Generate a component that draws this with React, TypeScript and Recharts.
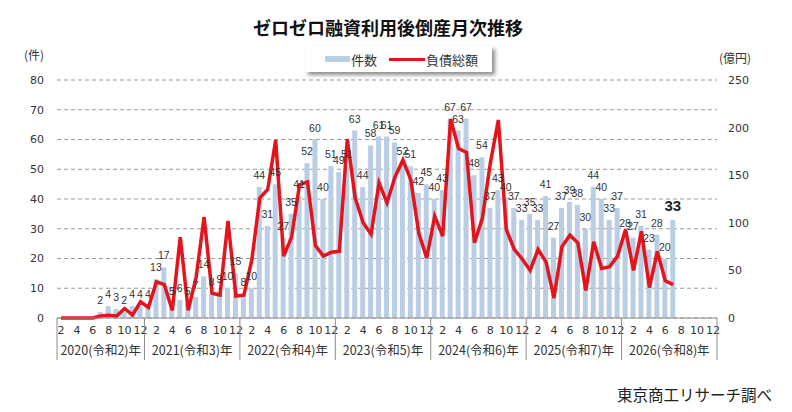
import { Bar, CartesianGrid, ComposedChart, LabelList, Legend, Line, XAxis, YAxis } from 'recharts'

const years = [2020, 2021, 2022, 2023, 2024, 2025, 2026]
const eraYears = [2, 3, 4, 5, 6, 7, 8]

// 件数 (Feb 2020 - Jul 2026)
const counts = [
  0, 0, 0, 0, 0, 2, 4, 3, 2, 4, 4,
  4, 13, 17, 5, 6, 5, 7, 14, 8, 9, 10, 15,
  8, 10, 44, 31, 45, 27, 35, 41, 52, 60, 40, 51,
  49, 51, 63, 44, 58, 61, 61, 59, 52, 51, 42, 45,
  40, 43, 67, 63, 67, 48, 54, 37, 43, 40, 37, 33,
  35, 33, 41, 27, 37, 39, 38, 30, 44, 40, 33, 37,
  28, 27, 31, 23, 28, 20, 33,
]

// 負債総額 (億円)
const debts = [
  0, 0, 0, 0, 0, 2, 3, 2, 10, 3, 17,
  11, 38, 35, 8, 85, 8, 43, 106, 26, 24, 102, 23,
  24, 61, 126, 135, 187, 65, 85, 140, 143, 76, 65, 69,
  70, 188, 126, 100, 88, 142, 121, 148, 166, 145, 89, 63,
  107, 86, 209, 178, 174, 79, 105, 163, 208, 93, 72, 62,
  50, 72, 59, 21, 75, 87, 79, 29, 80, 52, 54, 65,
  93, 50, 91, 32, 70, 39, 35,
]

const leftTicks = [0, 10, 20, 30, 40, 50, 60, 70, 80]
const rightTicks = [0, 50, 100, 150, 200, 250]

const categories = years.flatMap((year, i) => {
  const start = i === 0 ? 2 : 1
  return Array.from({ length: 13 - start }, (_, k) => ({ year, era: eraYears[i], month: start + k }))
})

const lastIdx = counts.length - 1

const data = categories.map((c, i) => ({
  key: `${c.year}-${c.month}`,
  ...c,
  count: i < counts.length ? counts[i] : null,
  debt: i < debts.length ? debts[i] : null,
  // the latest month gets its own, larger label
  labelSmall: i < lastIdx ? counts[i] : null,
  labelBig: i === lastIdx ? counts[i] : null,
}))

const jp = '"Noto Sans CJK JP", sans-serif'
const num = '"DejaVu Sans", sans-serif'
const barColor = '#b9cde5'
const lineColor = '#e3141c'
const textColor = '#333'

function MonthTick(props: any) {
  const { x, y, payload } = props
  const i = payload.index
  const d = data[i]
  if (!d) return null
  const half = payload.offset || 3.97
  const sep = '#8c8c8c'
  return (
    <g>
      {d.month % 2 === 0 && (
        <text x={x} y={y + 16} textAnchor="middle" fontSize={11} fontFamily={num} fill={textColor}>
          {d.month}
        </text>
      )}
      {(i === 0 || d.month === 1) && <line x1={x - half} x2={x - half} y1={y} y2={y + 42} stroke={sep} />}
      {i === data.length - 1 && <line x1={x + half} x2={x + half} y1={y} y2={y + 42} stroke={sep} />}
      {d.year === 2020 && d.month === 7 && (
        <text x={x} y={y + 37} textAnchor="middle" fontSize={12.5} fontFamily={jp} fill={textColor}>
          {`${d.year}(令和${d.era})年`}
        </text>
      )}
      {d.year !== 2020 && d.month === 6 && (
        <text x={x + half} y={y + 37} textAnchor="middle" fontSize={12.5} fontFamily={jp} fill={textColor}>
          {`${d.year}(令和${d.era})年`}
        </text>
      )}
    </g>
  )
}

function SmallLabel(props: any) {
  const { x, y, width, value } = props
  if (value == null) return null
  return (
    <text
      x={x + width / 2}
      y={y - 8}
      textAnchor="middle"
      fontSize={10.5}
      fontFamily='"Liberation Sans", sans-serif'
      fill={textColor}
    >
      {value}
    </text>
  )
}

function BigLabel(props: any) {
  const { x, y, width, value } = props
  if (value == null) return null
  return (
    <text
      x={x + width / 2}
      y={y - 9}
      textAnchor="middle"
      fontSize={15}
      fontWeight={700}
      fontFamily='"Liberation Sans", sans-serif'
      fill="#222"
    >
      {value}
    </text>
  )
}

function LegendBox() {
  return (
    <div
      style={{
        width: 187,
        height: 26,
        background: '#fff',
        boxShadow: '3px 3px 4px rgba(0,0,0,0.45)',
        display: 'flex',
        alignItems: 'center',
        fontFamily: jp,
        fontSize: 13,
        color: textColor,
      }}
    >
      <span style={{ display: 'inline-block', width: 25, height: 6, background: barColor, marginLeft: 20 }} />
      <span style={{ marginLeft: 1 }}>件数</span>
      <span style={{ display: 'inline-block', width: 36, height: 3, background: lineColor, marginLeft: 12 }} />
      <span style={{ marginLeft: 1 }}>負債総額</span>
    </div>
  )
}

export default function App() {
  return (
    <div style={{ position: 'absolute', left: 0, top: 0, width: 792, height: 412, background: '#fff' }}>
      <div
        style={{
          position: 'absolute',
          left: 0,
          width: 776,
          top: 14,
          textAlign: 'center',
          fontFamily: jp,
          fontWeight: 700,
          fontSize: 18,
          lineHeight: '26px',
          color: '#111',
        }}
      >
        ゼロゼロ融資利用後倒産月次推移
      </div>
      <div style={{ position: 'absolute', left: 24, top: 46, fontFamily: jp, fontSize: 12, color: textColor }}>(件)</div>
      <div style={{ position: 'absolute', left: 719, top: 49, fontFamily: jp, fontSize: 12, color: textColor }}>(億円)</div>
      <div style={{ position: 'absolute', left: 617, top: 383, fontFamily: jp, fontSize: 15.5, color: '#222' }}>
        東京商工リサーチ調べ
      </div>
      <ComposedChart width={792} height={412} data={data} margin={{ top: 80, right: 0, bottom: 54, left: 0 }}>
        <CartesianGrid yAxisId="left" vertical={false} stroke="#9a9a9a" strokeDasharray="4 3" />
        <XAxis
          dataKey="key"
          interval={0}
          height={40}
          tickSize={0}
          tickMargin={0}
          tickLine={false}
          axisLine={{ stroke: '#8c8c8c' }}
          tick={<MonthTick />}
        />
        <YAxis
          yAxisId="left"
          width={57}
          domain={[0, 80]}
          ticks={leftTicks}
          axisLine={false}
          tickLine={false}
          tickSize={0}
          tickMargin={13}
          tick={{ fontSize: 11, fontFamily: num, fill: textColor }}
        />
        <YAxis
          yAxisId="right"
          orientation="right"
          width={75}
          domain={[0, 250]}
          ticks={rightTicks}
          axisLine={false}
          tickLine={false}
          tickSize={0}
          tickMargin={11}
          tick={{ fontSize: 11, fontFamily: num, fill: textColor, textAnchor: 'start' }}
        />
        <Legend
          layout="horizontal"
          verticalAlign="middle"
          align="center"
          wrapperStyle={{ top: 46, left: 305, width: 187, height: 26 }}
          content={<LegendBox />}
        />
        <Bar yAxisId="left" dataKey="count" name="件数" fill={barColor} barSize={5} isAnimationActive={false}>
          <LabelList dataKey="labelSmall" content={<SmallLabel />} />
          <LabelList dataKey="labelBig" content={<BigLabel />} />
        </Bar>
        <Line
          yAxisId="right"
          dataKey="debt"
          name="負債総額"
          type="linear"
          stroke={lineColor}
          strokeWidth={3.5}
          dot={false}
          activeDot={false}
          isAnimationActive={false}
        />
      </ComposedChart>
    </div>
  )
}
